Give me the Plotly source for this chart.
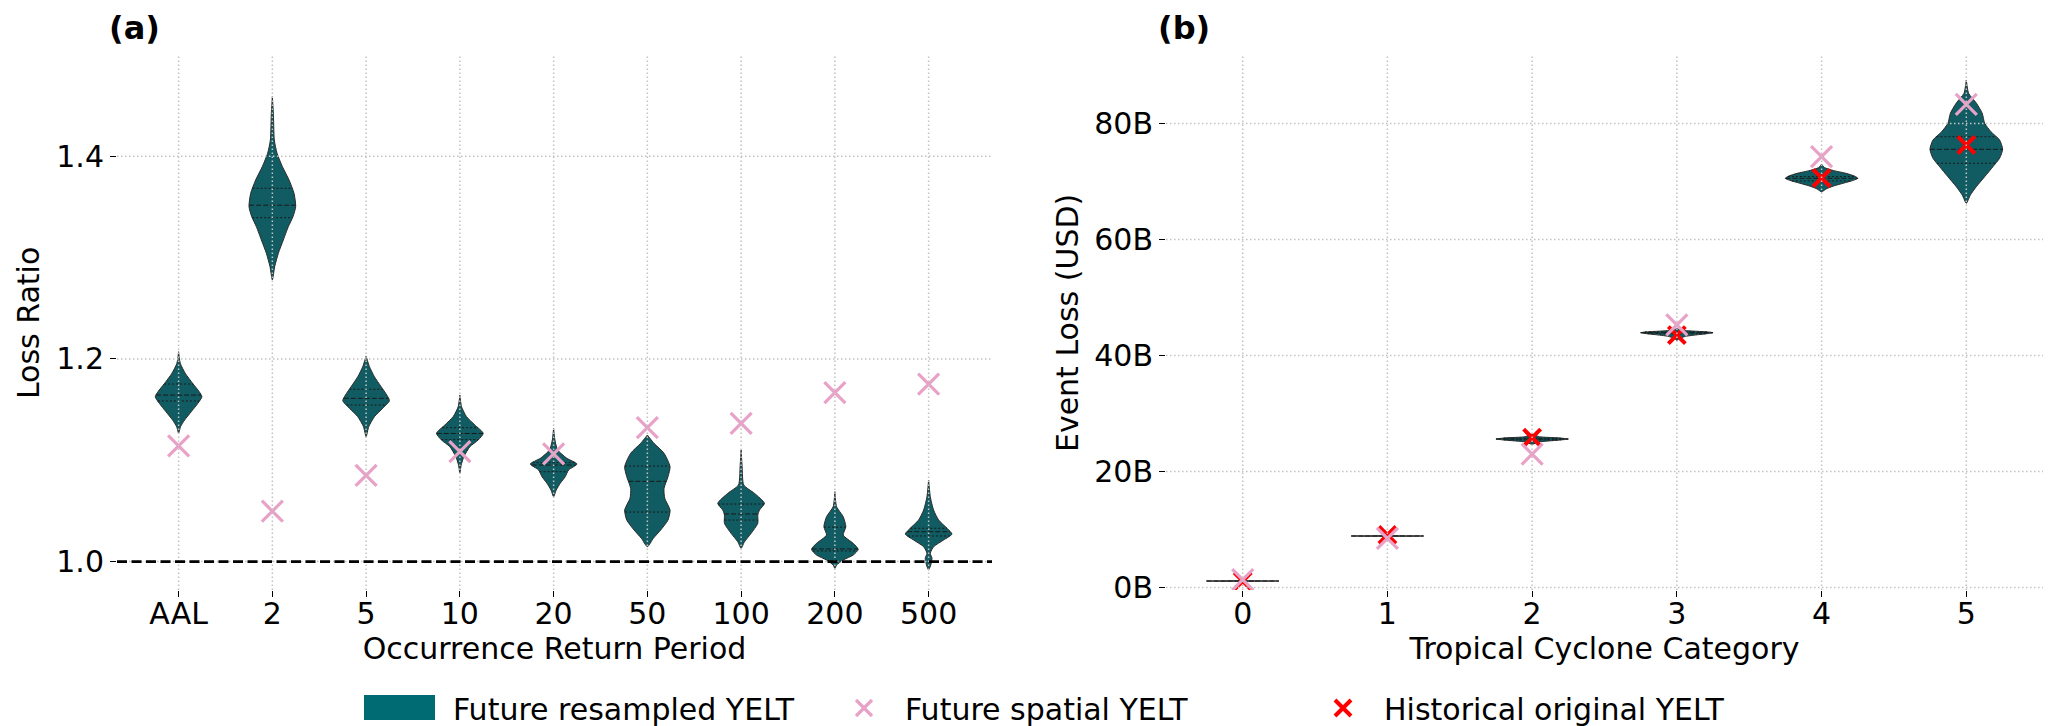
import numpy as np
import plotly.graph_objects as go

# ======================= Panel (a): Loss ratio by occurrence return period ====
RP_LABELS = ["AAL", "2", "5", "10", "20", "50", "100", "200", "500"]

# Violin outlines: loss-ratio levels (bottom -> top) and
# the KDE half-width at that level (in category units), plus quartiles.
VA_AAL_Y = [1.1266, 1.1331, 1.1397, 1.1479, 1.1562, 1.1627, 1.1676, 1.1759, 1.1858, 1.1957, 1.2071]
VA_AAL_W = [0, 0.021, 0.064, 0.135, 0.206, 0.249, 0.22, 0.149, 0.071, 0.018, 0]
QA_AAL = [1.1585, 1.1643, 1.1752]

VA_2_Y = [1.2778, 1.291, 1.3042, 1.3173, 1.3305, 1.3403, 1.3502, 1.3634, 1.3765, 1.3897, 1.4029, 1.416, 1.4423, 1.4587]
VA_2_W = [0, 0.025, 0.064, 0.117, 0.171, 0.22, 0.249, 0.231, 0.178, 0.107, 0.05, 0.021, 0.011, 0]
QA_2 = [1.3393, 1.3516, 1.3683]

VA_5_Y = [1.1232, 1.1331, 1.143, 1.1513, 1.1588, 1.1644, 1.1726, 1.1824, 1.1923, 1.2029]
VA_5_W = [0, 0.028, 0.089, 0.178, 0.249, 0.22, 0.16, 0.089, 0.036, 0]
QA_5 = [1.1545, 1.1611, 1.170]

VA_10_Y = [1.0871, 1.0953, 1.1035, 1.1134, 1.12, 1.1266, 1.1348, 1.143, 1.1528, 1.1644]
VA_10_W = [0, 0.014, 0.043, 0.107, 0.196, 0.249, 0.16, 0.071, 0.018, 0]
QA_10 = [1.1203, 1.1264, 1.1321]

VA_20_Y = [1.064, 1.0706, 1.0773, 1.0838, 1.0904, 1.0963, 1.1019, 1.1101, 1.12, 1.1315]
VA_20_W = [0, 0.028, 0.071, 0.124, 0.16, 0.249, 0.142, 0.043, 0.014, 0]
QA_20 = [1.0887, 1.0953, 1.0976]

VA_50_Y = [1.0147, 1.023, 1.0312, 1.041, 1.0509, 1.0625, 1.0723, 1.0838, 1.0936, 1.1069, 1.1167, 1.1249]
VA_50_W = [0, 0.064, 0.142, 0.22, 0.242, 0.185, 0.178, 0.22, 0.242, 0.178, 0.071, 0]
QA_50 = [1.0489, 1.0792, 1.0943]

VA_100_Y = [1.0131, 1.0196, 1.0279, 1.0378, 1.046, 1.0509, 1.0575, 1.0674, 1.0756, 1.0936, 1.1101]
VA_100_W = [0, 0.036, 0.107, 0.178, 0.178, 0.196, 0.249, 0.142, 0.028, 0.011, 0]
QA_100 = [1.041, 1.047, 1.0568]

VA_200_Y = [0.9934, 0.9966, 1.0016, 1.0065, 1.0121, 1.018, 1.0262, 1.0344, 1.0443, 1.0542, 1.069]
VA_200_W = [0, 0.018, 0.089, 0.196, 0.249, 0.196, 0.089, 0.117, 0.089, 0.018, 0]
QA_200 = [1.0105, 1.0125, 1.034]

VA_500_Y = [0.9917, 0.9983, 1.0033, 1.0082, 1.0147, 1.0213, 1.0272, 1.0329, 1.041, 1.0509, 1.064, 1.0805]
VA_500_W = [0, 0.028, 0.036, 0.018, 0.053, 0.16, 0.249, 0.196, 0.107, 0.053, 0.018, 0]
QA_500 = [1.0253, 1.0295, 1.0329]

SPATIAL_RATIO = [1.1141, 1.0497, 1.085, 1.1084, 1.1062, 1.1321, 1.1364, 1.1667, 1.1752]
BASELINE_RATIO = 1.0
RATIO_TICKS = [1.0, 1.2, 1.4]
RATIO_TICK_TEXT = ["1.0", "1.2", "1.4"]

# ======================= Panel (b): Event loss by TC category (billions USD) ==
TC_LABELS = ["0", "1", "2", "3", "4", "5"]

VB_0_Y = [1.06, 1.12, 1.18]
VB_0_W = [0, 0.25, 0]
QB_0 = [1.12]

VB_1_Y = [8.82, 8.88, 8.94]
VB_1_W = [0, 0.25, 0]
QB_1 = [8.88]

VB_2_Y = [24.7, 25.1, 25.4, 25.6, 25.8, 26.0, 26.5]
VB_2_W = [0, 0.05, 0.18, 0.25, 0.18, 0.05, 0]
QB_2 = [25.45, 25.6, 25.75]

VB_3_Y = [42.6, 42.9, 43.3, 43.6, 43.8, 43.93, 44.05, 44.2, 44.4, 44.7]
VB_3_W = [0, 0.015, 0.06, 0.15, 0.22, 0.25, 0.22, 0.12, 0.02, 0]
QB_3 = [43.75, 43.93, 44.05]

VB_4_Y = [68.2, 68.7, 69.2, 69.7, 70.2, 70.55, 70.9, 71.4, 71.9, 72.4, 73.0]
VB_4_W = [0, 0.03, 0.08, 0.15, 0.22, 0.25, 0.23, 0.17, 0.08, 0.02, 0]
QB_4 = [70.1, 70.55, 70.85]

VB_5_Y = [66.24, 67.67, 69.1, 70.83, 72.55, 74.0, 75.55, 77.16, 78.59, 80.03, 81.76, 83.5, 85.2, 87.5]
VB_5_W = [0, 0.028, 0.069, 0.127, 0.184, 0.23, 0.251, 0.23, 0.17, 0.127, 0.11, 0.07, 0.016, 0]
QB_5 = [73.14, 75.55, 77.72]

HIST_LOSS_B = [1.1, 9.05, 25.83, 43.5, 70.6, 76.29]
SPATIAL_LOSS_B = [1.35, 8.48, 23.0, 45.3, 74.28, 83.3]
LOSS_TICKS = [0, 20, 40, 60, 80]
LOSS_TICK_TEXT = ["0B", "20B", "40B", "60B", "80B"]

# ------------------------------------------------------------------ styling ---
FONT = "DejaVu Sans"
VIOLIN_FILL = "#105c62"
LEGEND_TEAL = "#006b73"
EDGE = "#2b2b2b"
PINK = "#e8a2c8"
RED = "#ff0000"
GRID = "#c2c2c2"
W, H = 2053, 726

VIOLINS_A = [(VA_AAL_Y, VA_AAL_W, QA_AAL), (VA_2_Y, VA_2_W, QA_2), (VA_5_Y, VA_5_W, QA_5),
             (VA_10_Y, VA_10_W, QA_10), (VA_20_Y, VA_20_W, QA_20), (VA_50_Y, VA_50_W, QA_50),
             (VA_100_Y, VA_100_W, QA_100), (VA_200_Y, VA_200_W, QA_200), (VA_500_Y, VA_500_W, QA_500)]
VIOLINS_B = [(VB_0_Y, VB_0_W, QB_0), (VB_1_Y, VB_1_W, QB_1), (VB_2_Y, VB_2_W, QB_2),
             (VB_3_Y, VB_3_W, QB_3), (VB_4_Y, VB_4_W, QB_4), (VB_5_Y, VB_5_W, QB_5)]

fig = go.Figure()


def add_violin(pos, ys, ws, quarts, xa, ya):
    ys = np.asarray(ys, float)
    ws = np.asarray(ws, float)
    xs = np.concatenate([pos + ws, (pos - ws)[::-1]])
    yy = np.concatenate([ys, ys[::-1]])
    fig.add_trace(go.Scatter(
        x=xs, y=yy, mode="lines", fill="toself", fillcolor=VIOLIN_FILL,
        line=dict(color=EDGE, width=1, shape="spline", smoothing=0.6),
        xaxis=xa, yaxis=ya, showlegend=False, hoverinfo="skip"))
    for k, q in enumerate(quarts):
        h = float(np.interp(q, ys, ws))
        med = (len(quarts) == 1) or (k == 1)
        fig.add_trace(go.Scatter(
            x=[pos - h, pos + h], y=[q, q], mode="lines",
            line=dict(color="#1a1a1a", width=1, dash="5px,2px" if med else "2px,2px"),
            xaxis=xa, yaxis=ya, showlegend=False, hoverinfo="skip"))


for i, (ys, ws, qs) in enumerate(VIOLINS_A):
    add_violin(i, ys, ws, qs, "x", "y")
for i, (ys, ws, qs) in enumerate(VIOLINS_B):
    add_violin(i, ys, ws, qs, "x2", "y2")

# historical original (red) below the spatial (pink) markers
fig.add_trace(go.Scatter(
    x=list(range(len(TC_LABELS))), y=HIST_LOSS_B, mode="markers",
    marker=dict(symbol="x-thin", size=17, line=dict(color=RED, width=4), color=RED),
    xaxis="x2", yaxis="y2", name="Historical original YELT", legend="legend3",
    showlegend=True))
fig.add_trace(go.Scatter(
    x=list(range(len(RP_LABELS))), y=SPATIAL_RATIO, mode="markers",
    marker=dict(symbol="x-thin", size=21, line=dict(color=PINK, width=3.2), color=PINK),
    xaxis="x", yaxis="y", name="Future spatial YELT", legend="legend2", showlegend=True))
fig.add_trace(go.Scatter(
    x=list(range(len(TC_LABELS))), y=SPATIAL_LOSS_B, mode="markers",
    marker=dict(symbol="x-thin", size=21, line=dict(color=PINK, width=3.2), color=PINK),
    xaxis="x2", yaxis="y2", showlegend=False))
# legend-only entry for the violins (its key is drawn as a filled patch below)
fig.add_trace(go.Scatter(
    x=[None], y=[None], mode="lines", line=dict(color="rgba(0,0,0,0)", width=1),
    xaxis="x", yaxis="y", name="Future resampled YELT", legend="legend", showlegend=True))

# --------------------------------------------------------------- gridlines ---
shapes = []
grid_line = dict(color=GRID, width=1.5, dash="1.5px,2.5px")
for i in range(len(RP_LABELS)):
    shapes.append(dict(type="line", xref="x", yref="y domain", x0=i, x1=i, y0=0, y1=1,
                       line=grid_line, layer="above"))
for t in RATIO_TICKS:
    shapes.append(dict(type="line", xref="x domain", yref="y", x0=0, x1=1, y0=t, y1=t,
                       line=grid_line, layer="above"))
for i in range(len(TC_LABELS)):
    shapes.append(dict(type="line", xref="x2", yref="y2 domain", x0=i, x1=i, y0=0, y1=1,
                       line=grid_line, layer="above"))
for t in LOSS_TICKS:
    shapes.append(dict(type="line", xref="x2 domain", yref="y2", x0=0, x1=1, y0=t, y1=t,
                       line=grid_line, layer="above"))
shapes.append(dict(type="line", xref="x domain", yref="y", x0=0, x1=1,
                   y0=BASELINE_RATIO, y1=BASELINE_RATIO,
                   line=dict(color="black", width=2.8, dash="10px,4.5px"), layer="above"))
# legend key patch for the violins (matplotlib-style filled rectangle)
shapes.append(dict(type="rect", xref="paper", yref="paper",
                   x0=364 / W, x1=435 / W, y0=(H - 720) / H, y1=(H - 695) / H,
                   fillcolor=LEGEND_TEAL, line=dict(width=0), layer="above"))

# ------------------------------------------------------------------ layout ---
ydom = [(H - 590) / H, (H - 55.8) / H]
tickfont = dict(family=FONT, size=30, color="black")
titlefont = dict(family=FONT, size=30, color="black")
common_axis = dict(showgrid=False, zeroline=False, showline=False, ticks="outside",
                   ticklen=6, tickwidth=1.3, tickcolor="black", tickfont=tickfont,
                   automargin=False)

leg_common = dict(yref="container", xref="container", y=(H - 708) / H,
                  xanchor="left", yanchor="middle", orientation="h",
                  font=dict(family=FONT, size=30, color="black"), itemwidth=72,
                  bgcolor="rgba(0,0,0,0)")

fig.update_layout(
    width=W, height=H, autosize=False,
    margin=dict(l=0, r=0, t=0, b=0, autoexpand=False),
    paper_bgcolor="white", plot_bgcolor="white",
    font=dict(family=FONT, size=30, color="black"),
    xaxis=dict(domain=[117 / W, 992 / W], range=[-0.657, 8.676], anchor="y",
               tickmode="array", tickvals=list(range(len(RP_LABELS))), ticktext=RP_LABELS,
               ticklabelstandoff=-9,
               title=dict(text="Occurrence Return Period", font=titlefont, standoff=3),
               **common_axis),
    yaxis=dict(domain=ydom, range=[0.972, 1.499], anchor="x",
               tickmode="array", tickvals=RATIO_TICKS, ticktext=RATIO_TICK_TEXT,
               title=dict(text="Loss Ratio", font=titlefont, standoff=7),
               **common_axis),
    xaxis2=dict(domain=[1166 / W, 2043 / W], range=[-0.53, 5.53], anchor="y2",
                tickmode="array", tickvals=list(range(len(TC_LABELS))), ticktext=TC_LABELS,
                ticklabelstandoff=-9,
                title=dict(text="Tropical Cyclone Category", font=titlefont, standoff=3),
                **common_axis),
    yaxis2=dict(domain=ydom, range=[-0.43, 91.67], anchor="x2",
                tickmode="array", tickvals=LOSS_TICKS, ticktext=LOSS_TICK_TEXT,
                title=dict(text="Event Loss (USD)", font=titlefont, standoff=6),
                **common_axis),
    shapes=shapes,
    showlegend=True,
    legend=dict(x=371 / W, **leg_common),
    legend2=dict(x=823 / W, **leg_common),
    legend3=dict(x=1302 / W, **leg_common),
    annotations=[
        dict(text="<b>(a)</b>", x=107 / W, y=(H - 28) / H, xref="paper", yref="paper",
             xanchor="left", yanchor="middle", showarrow=False,
             font=dict(family=FONT, size=32, color="black")),
        dict(text="<b>(b)</b>", x=1156 / W, y=(H - 28) / H, xref="paper", yref="paper",
             xanchor="left", yanchor="middle", showarrow=False,
             font=dict(family=FONT, size=32, color="black")),
    ],
)

fig.write_html("out.html")
